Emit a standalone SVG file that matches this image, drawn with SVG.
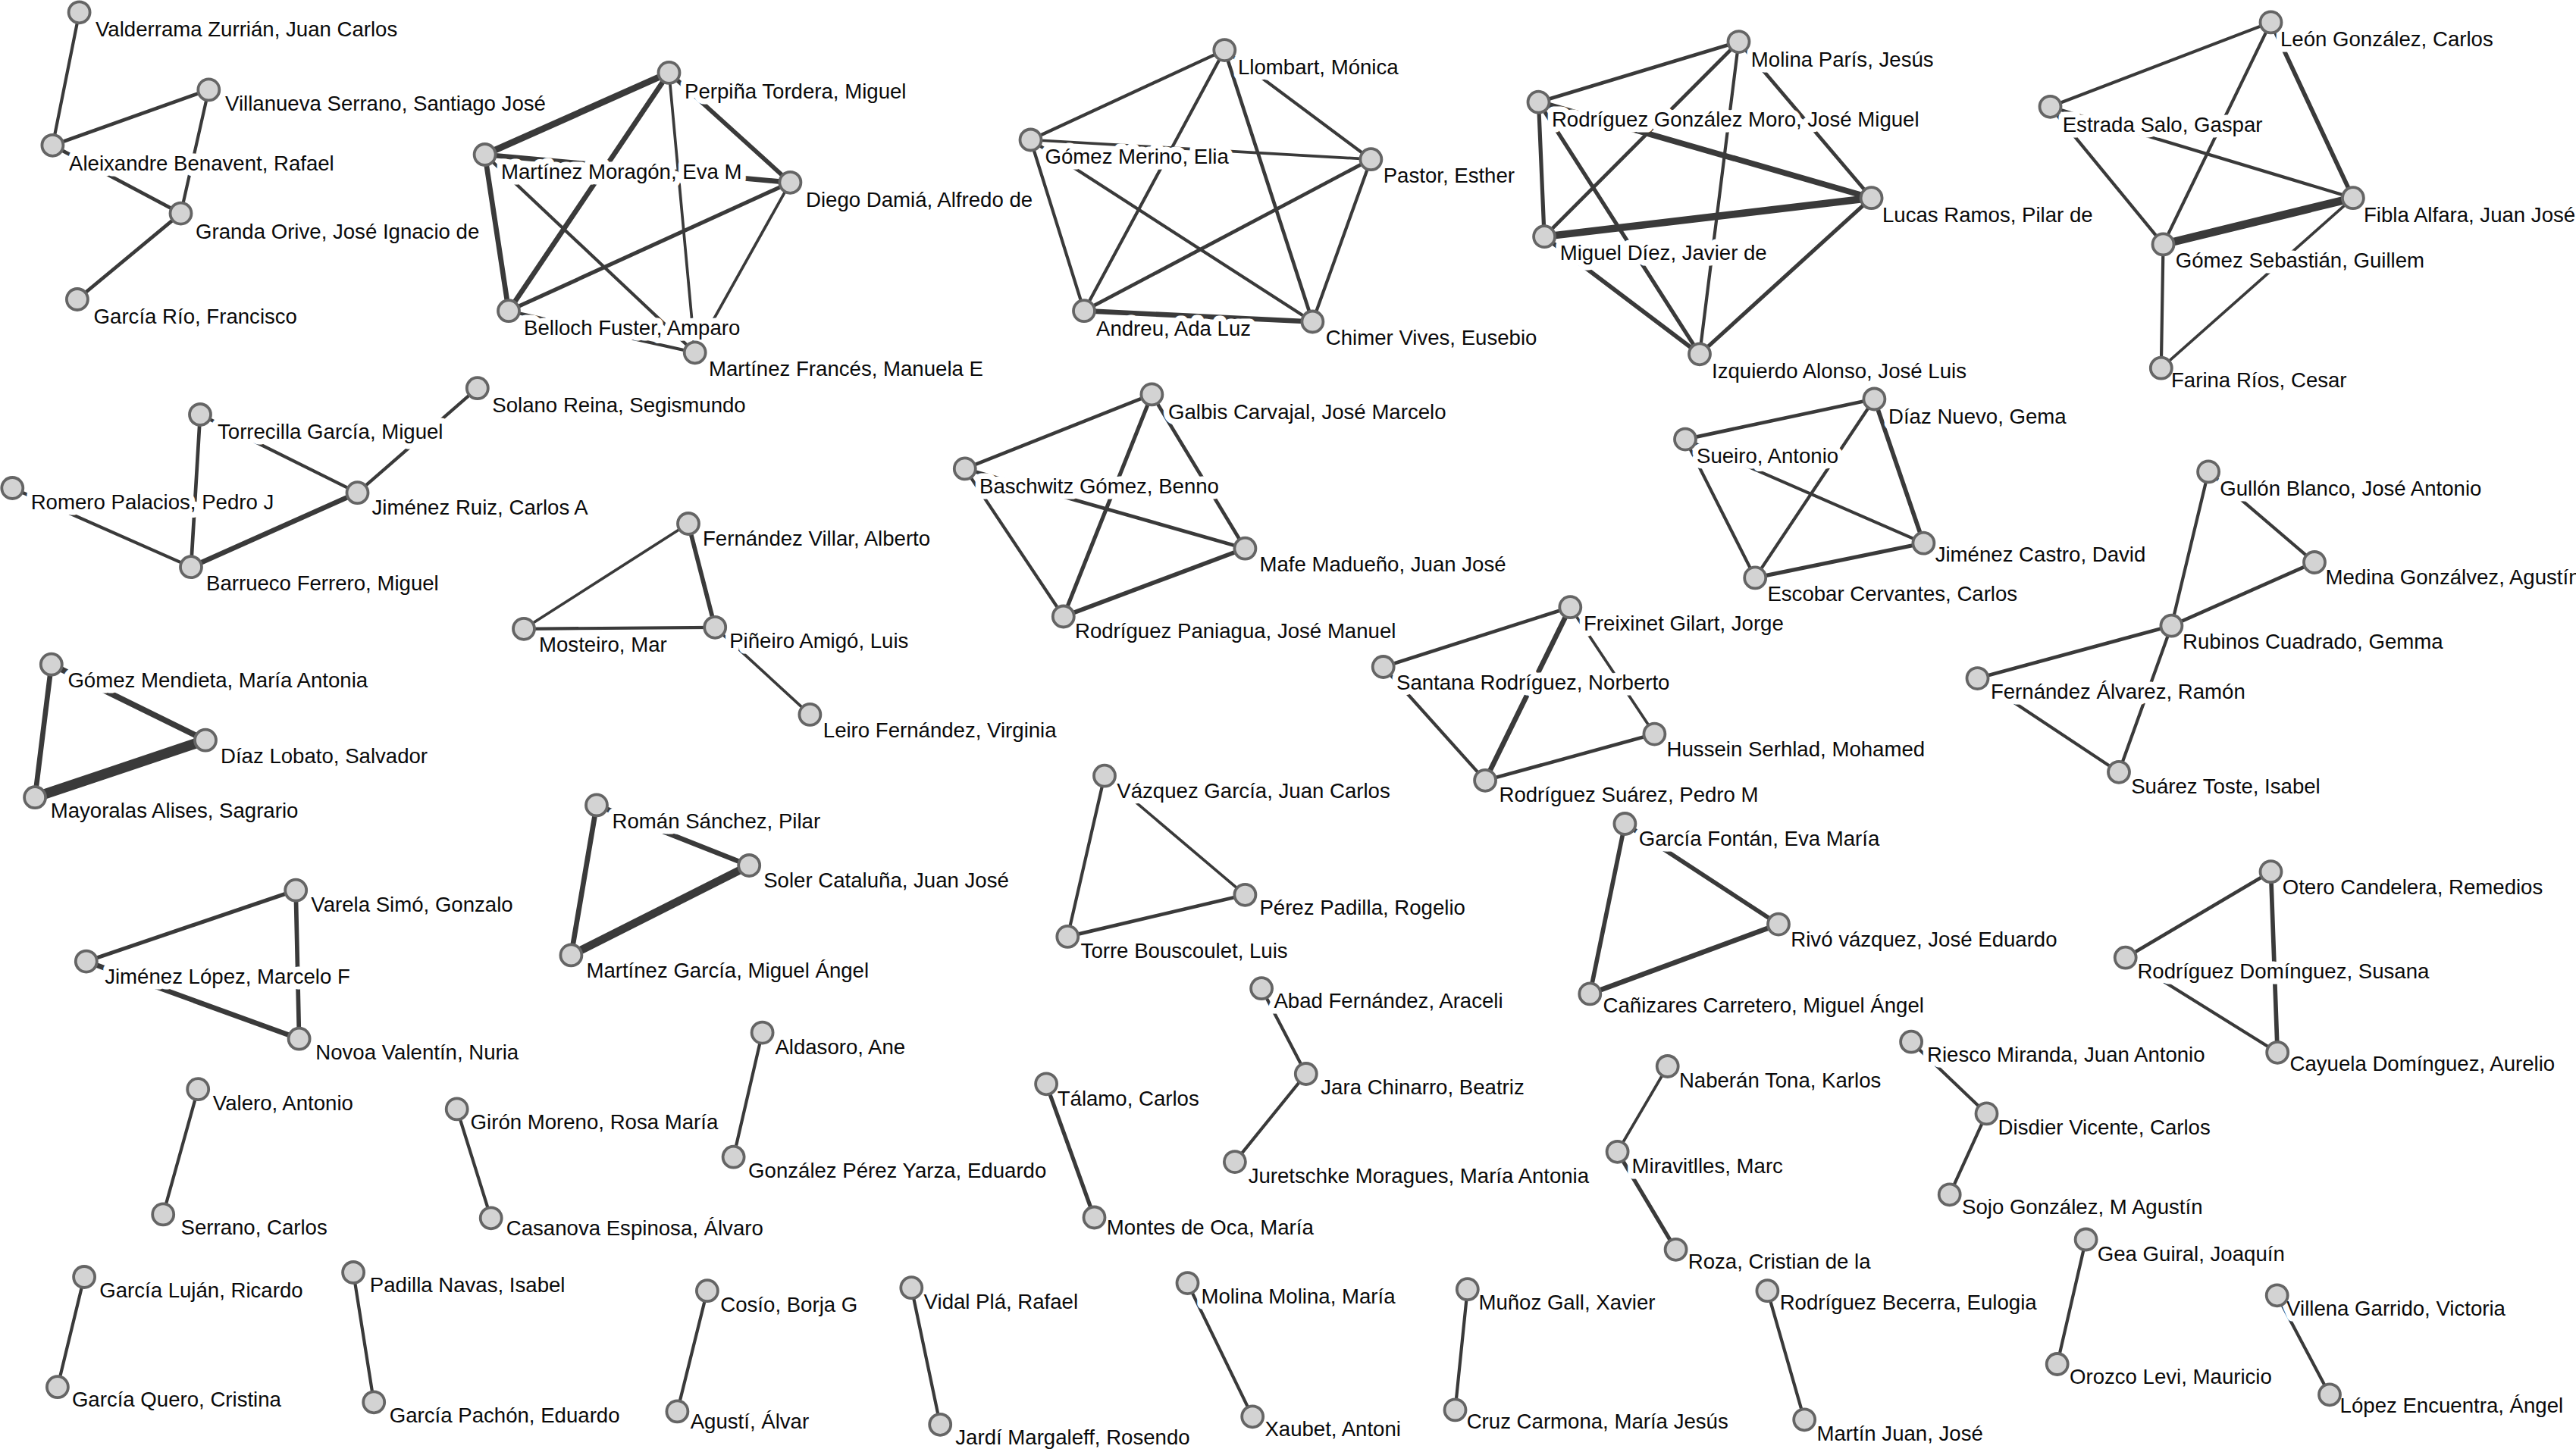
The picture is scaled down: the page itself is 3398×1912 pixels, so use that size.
<svg xmlns="http://www.w3.org/2000/svg" width="3398" height="1912" viewBox="0 0 3398 1912">
<style>
.e{stroke:#3a3a3a;stroke-linecap:round;fill:none}
.node circle{fill:#d3d3d3;stroke:#656565;stroke-width:3.8}
.node text{font-family:"Liberation Sans",Arial,sans-serif;font-size:27.6px;fill:#0a0a0a;stroke:#fff;stroke-width:15;stroke-linejoin:round;paint-order:stroke}
</style>
<rect width="3398" height="1912" fill="#fff"/>
<g id="connectors">
<!-- A -->
<line class="e" x1="104.6" y1="16.3" x2="69.4" y2="191.8" stroke-width="4.2"/>
<line class="e" x1="69.4" y1="191.8" x2="275.3" y2="118.4" stroke-width="4.7"/>
<line class="e" x1="275.3" y1="118.4" x2="238.5" y2="281.6" stroke-width="4.2"/>
<line class="e" x1="69.4" y1="191.8" x2="238.5" y2="281.6" stroke-width="4.7"/>
<line class="e" x1="238.5" y1="281.6" x2="101.9" y2="395" stroke-width="4.7"/>
<!-- B -->
<line class="e" x1="639.6" y1="204" x2="882.5" y2="95.9" stroke-width="8.7"/>
<line class="e" x1="639.6" y1="204" x2="671" y2="410.2" stroke-width="6.7"/>
<line class="e" x1="639.6" y1="204" x2="1042.4" y2="240.8" stroke-width="6.7"/>
<line class="e" x1="639.6" y1="204" x2="916.7" y2="465.3" stroke-width="4.2"/>
<line class="e" x1="882.5" y1="95.9" x2="671" y2="410.2" stroke-width="6.7"/>
<line class="e" x1="882.5" y1="95.9" x2="1042.4" y2="240.8" stroke-width="5.7"/>
<line class="e" x1="882.5" y1="95.9" x2="916.7" y2="465.3" stroke-width="3.7"/>
<line class="e" x1="671" y1="410.2" x2="1042.4" y2="240.8" stroke-width="5.2"/>
<line class="e" x1="1042.4" y1="240.8" x2="916.7" y2="465.3" stroke-width="3.7"/>
<line class="e" x1="671" y1="410.2" x2="916.7" y2="465.3" stroke-width="4.2"/>
<!-- C -->
<line class="e" x1="1359.5" y1="184.5" x2="1615.3" y2="66.1" stroke-width="4.2"/>
<line class="e" x1="1359.5" y1="184.5" x2="1808.4" y2="210.2" stroke-width="3.7"/>
<line class="e" x1="1359.5" y1="184.5" x2="1430" y2="410.2" stroke-width="4.2"/>
<line class="e" x1="1359.5" y1="184.5" x2="1731.4" y2="424.5" stroke-width="4.2"/>
<line class="e" x1="1615.3" y1="66.1" x2="1430" y2="410.2" stroke-width="4.2"/>
<line class="e" x1="1615.3" y1="66.1" x2="1731.4" y2="424.5" stroke-width="4.7"/>
<line class="e" x1="1615.3" y1="66.1" x2="1808.4" y2="210.2" stroke-width="4.2"/>
<line class="e" x1="1808.4" y1="210.2" x2="1430" y2="410.2" stroke-width="4.7"/>
<line class="e" x1="1808.4" y1="210.2" x2="1731.4" y2="424.5" stroke-width="4.2"/>
<line class="e" x1="1430" y1="410.2" x2="1731.4" y2="424.5" stroke-width="6.7"/>
<!-- D -->
<line class="e" x1="2293.5" y1="55.1" x2="2029.5" y2="134.7" stroke-width="4.7"/>
<line class="e" x1="2293.5" y1="55.1" x2="2037.1" y2="312.2" stroke-width="4.7"/>
<line class="e" x1="2293.5" y1="55.1" x2="2242" y2="467.3" stroke-width="4.2"/>
<line class="e" x1="2293.5" y1="55.1" x2="2468.6" y2="261.2" stroke-width="4.7"/>
<line class="e" x1="2029.5" y1="134.7" x2="2037.1" y2="312.2" stroke-width="5.2"/>
<line class="e" x1="2029.5" y1="134.7" x2="2468.6" y2="261.2" stroke-width="7.7"/>
<line class="e" x1="2029.5" y1="134.7" x2="2242" y2="467.3" stroke-width="5.2"/>
<line class="e" x1="2037.1" y1="312.2" x2="2468.6" y2="261.2" stroke-width="9.7"/>
<line class="e" x1="2037.1" y1="312.2" x2="2242" y2="467.3" stroke-width="5.7"/>
<line class="e" x1="2468.6" y1="261.2" x2="2242" y2="467.3" stroke-width="5.2"/>
<!-- E -->
<line class="e" x1="2995.5" y1="29.4" x2="2704.5" y2="140.8" stroke-width="4.2"/>
<line class="e" x1="2995.5" y1="29.4" x2="2853.5" y2="322.4" stroke-width="4.2"/>
<line class="e" x1="2995.5" y1="29.4" x2="3103.9" y2="261.2" stroke-width="5.7"/>
<line class="e" x1="2704.5" y1="140.8" x2="2853.5" y2="322.4" stroke-width="4.2"/>
<line class="e" x1="2704.5" y1="140.8" x2="3103.9" y2="261.2" stroke-width="4.2"/>
<line class="e" x1="2853.5" y1="322.4" x2="3103.9" y2="261.2" stroke-width="10.7"/>
<line class="e" x1="2853.5" y1="322.4" x2="2850.8" y2="485.7" stroke-width="4.2"/>
<line class="e" x1="3103.9" y1="261.2" x2="2850.8" y2="485.7" stroke-width="3.7"/>
<!-- F -->
<line class="e" x1="264" y1="547" x2="252" y2="748.2" stroke-width="4.7"/>
<line class="e" x1="264" y1="547" x2="471.5" y2="650.2" stroke-width="4.2"/>
<line class="e" x1="629.8" y1="512.2" x2="471.5" y2="650.2" stroke-width="4.2"/>
<line class="e" x1="16.3" y1="644" x2="252" y2="748.2" stroke-width="4.2"/>
<line class="e" x1="471.5" y1="650.2" x2="252" y2="748.2" stroke-width="6.7"/>
<!-- G -->
<line class="e" x1="908" y1="691" x2="691" y2="829.8" stroke-width="3.7"/>
<line class="e" x1="908" y1="691" x2="943.2" y2="827.8" stroke-width="5.7"/>
<line class="e" x1="691" y1="829.8" x2="943.2" y2="827.8" stroke-width="4.2"/>
<line class="e" x1="943.2" y1="827.8" x2="1068.4" y2="942.9" stroke-width="3.7"/>
<!-- H -->
<line class="e" x1="1519.4" y1="520.4" x2="1272.8" y2="618.4" stroke-width="4.7"/>
<line class="e" x1="1519.4" y1="520.4" x2="1402.8" y2="813.5" stroke-width="5.2"/>
<line class="e" x1="1519.4" y1="520.4" x2="1642.4" y2="723.7" stroke-width="4.7"/>
<line class="e" x1="1272.8" y1="618.4" x2="1642.4" y2="723.7" stroke-width="4.7"/>
<line class="e" x1="1272.8" y1="618.4" x2="1402.8" y2="813.5" stroke-width="4.2"/>
<line class="e" x1="1402.8" y1="813.5" x2="1642.4" y2="723.7" stroke-width="5.7"/>
<!-- I -->
<line class="e" x1="2223" y1="579.6" x2="2472.4" y2="526.5" stroke-width="4.7"/>
<line class="e" x1="2223" y1="579.6" x2="2537.4" y2="716.7" stroke-width="4.2"/>
<line class="e" x1="2223" y1="579.6" x2="2315.2" y2="762.4" stroke-width="4.2"/>
<line class="e" x1="2472.4" y1="526.5" x2="2315.2" y2="762.4" stroke-width="4.2"/>
<line class="e" x1="2472.4" y1="526.5" x2="2537.4" y2="716.7" stroke-width="5.7"/>
<line class="e" x1="2315.2" y1="762.4" x2="2537.4" y2="716.7" stroke-width="5.2"/>
<!-- J -->
<line class="e" x1="2071.3" y1="801.2" x2="1824.7" y2="880" stroke-width="4.7"/>
<line class="e" x1="2071.3" y1="801.2" x2="1959.1" y2="1029.8" stroke-width="6.7"/>
<line class="e" x1="2071.3" y1="801.2" x2="2182.4" y2="968.6" stroke-width="3.7"/>
<line class="e" x1="1824.7" y1="880" x2="1959.1" y2="1029.8" stroke-width="4.2"/>
<line class="e" x1="2182.4" y1="968.6" x2="1959.1" y2="1029.8" stroke-width="4.7"/>
<!-- K -->
<line class="e" x1="2913.1" y1="622.4" x2="2864.4" y2="825.7" stroke-width="4.2"/>
<line class="e" x1="2913.1" y1="622.4" x2="3053" y2="742" stroke-width="4.2"/>
<line class="e" x1="2864.4" y1="825.7" x2="3053" y2="742" stroke-width="4.7"/>
<line class="e" x1="2864.4" y1="825.7" x2="2608.5" y2="895.1" stroke-width="4.7"/>
<line class="e" x1="2608.5" y1="895.1" x2="2795" y2="1018.8" stroke-width="4.2"/>
<line class="e" x1="2864.4" y1="825.7" x2="2795" y2="1018.8" stroke-width="4.2"/>
<!-- L -->
<line class="e" x1="67.8" y1="876.7" x2="46.1" y2="1052.2" stroke-width="6.7"/>
<line class="e" x1="67.8" y1="876.7" x2="271" y2="976.7" stroke-width="7.7"/>
<line class="e" x1="271" y1="976.7" x2="46.1" y2="1052.2" stroke-width="13.5"/>
<!-- M -->
<line class="e" x1="787" y1="1062.4" x2="753.4" y2="1260.4" stroke-width="6.7"/>
<line class="e" x1="787" y1="1062.4" x2="988.2" y2="1142" stroke-width="6.7"/>
<line class="e" x1="988.2" y1="1142" x2="753.4" y2="1260.4" stroke-width="10.7"/>
<!-- N -->
<line class="e" x1="1457" y1="1023.7" x2="1408.3" y2="1235.9" stroke-width="4.2"/>
<line class="e" x1="1457" y1="1023.7" x2="1642.4" y2="1180.8" stroke-width="3.7"/>
<line class="e" x1="1642.4" y1="1180.8" x2="1408.3" y2="1235.9" stroke-width="4.7"/>
<!-- O -->
<line class="e" x1="390.2" y1="1174.7" x2="113.8" y2="1268.6" stroke-width="5.2"/>
<line class="e" x1="390.2" y1="1174.7" x2="394.6" y2="1370.7" stroke-width="5.7"/>
<line class="e" x1="113.8" y1="1268.6" x2="394.6" y2="1370.7" stroke-width="6.7"/>
<!-- P -->
<line class="e" x1="2143.4" y1="1087" x2="2097.3" y2="1311.4" stroke-width="5.7"/>
<line class="e" x1="2143.4" y1="1087" x2="2346" y2="1219.6" stroke-width="5.7"/>
<line class="e" x1="2346" y1="1219.6" x2="2097.3" y2="1311.4" stroke-width="6.7"/>
<!-- Q -->
<line class="e" x1="2995.5" y1="1150.2" x2="2803.7" y2="1263.7" stroke-width="4.7"/>
<line class="e" x1="2995.5" y1="1150.2" x2="3004.2" y2="1388.8" stroke-width="5.7"/>
<line class="e" x1="2803.7" y1="1263.7" x2="3004.2" y2="1388.8" stroke-width="4.2"/>
<!-- R S T -->
<line class="e" x1="1664.1" y1="1304.2" x2="1722.8" y2="1417" stroke-width="4.2"/>
<line class="e" x1="1722.8" y1="1417" x2="1628.9" y2="1533.1" stroke-width="4.2"/>
<line class="e" x1="2199.7" y1="1407" x2="2133.6" y2="1519.8" stroke-width="3.7"/>
<line class="e" x1="2133.6" y1="1519.8" x2="2210.6" y2="1648.8" stroke-width="5.2"/>
<line class="e" x1="2521.1" y1="1374.7" x2="2620.5" y2="1469.4" stroke-width="4.2"/>
<line class="e" x1="2620.5" y1="1469.4" x2="2571.7" y2="1576.3" stroke-width="4.2"/>
<!-- pairs -->
<line class="e" x1="261.2" y1="1437.2" x2="215.2" y2="1602.4" stroke-width="4.2"/>
<line class="e" x1="602.7" y1="1463.4" x2="647.7" y2="1607.3" stroke-width="4.2"/>
<line class="e" x1="1005.6" y1="1362.6" x2="967.6" y2="1526.7" stroke-width="4.2"/>
<line class="e" x1="1380.1" y1="1430.3" x2="1443.5" y2="1606.5" stroke-width="5.2"/>
<line class="e" x1="111.1" y1="1685" x2="75.9" y2="1830.2" stroke-width="4.2"/>
<line class="e" x1="466.1" y1="1679" x2="493.2" y2="1850.3" stroke-width="4.2"/>
<line class="e" x1="932.9" y1="1703.2" x2="893.4" y2="1862.4" stroke-width="4.2"/>
<line class="e" x1="1202.3" y1="1699.2" x2="1240.2" y2="1879.8" stroke-width="4.2"/>
<line class="e" x1="1566.5" y1="1693.1" x2="1652.2" y2="1869.3" stroke-width="4.2"/>
<line class="e" x1="1935.8" y1="1701.2" x2="1919.5" y2="1860.4" stroke-width="4.2"/>
<line class="e" x1="2331.4" y1="1703.2" x2="2380.2" y2="1873.3" stroke-width="4.2"/>
<line class="e" x1="2751.6" y1="1635.5" x2="2713.7" y2="1800" stroke-width="4.2"/>
<line class="e" x1="3003.7" y1="1709.3" x2="3073" y2="1840.3" stroke-width="4.2"/>
</g>
<g id="nodes">
<g class="node" id="n1"><text x="126" y="48">Valderrama Zurrián, Juan Carlos</text><circle cx="104.6" cy="16.3" r="14"/></g>
<g class="node" id="n2"><text x="297" y="146">Villanueva Serrano, Santiago José</text><circle cx="275.3" cy="118.4" r="14"/></g>
<g class="node" id="n3"><text x="91" y="224.5">Aleixandre Benavent, Rafael</text><circle cx="69.4" cy="191.8" r="14"/></g>
<g class="node" id="n4"><text x="258" y="315">Granda Orive, José Ignacio de</text><circle cx="238.5" cy="281.6" r="14"/></g>
<g class="node" id="n5"><text x="123.6" y="426.5">García Río, Francisco</text><circle cx="101.9" cy="395" r="14"/></g>
<g class="node" id="n6"><text x="661" y="236">Martínez Moragón, Eva M</text><circle cx="639.6" cy="204" r="14"/></g>
<g class="node" id="n7"><text x="903" y="129.8">Perpiña Tordera, Miguel</text><circle cx="882.5" cy="95.9" r="14"/></g>
<g class="node" id="n8"><text x="1063" y="272.6">Diego Damiá, Alfredo de</text><circle cx="1042.4" cy="240.8" r="14"/></g>
<g class="node" id="n9"><text x="691" y="441.6">Belloch Fuster, Amparo</text><circle cx="671" cy="410.2" r="14"/></g>
<g class="node" id="n10"><text x="935" y="496">Martínez Francés, Manuela E</text><circle cx="916.7" cy="465.3" r="14"/></g>
<g class="node" id="n11"><text x="1378.5" y="216">Gómez Merino, Elia</text><circle cx="1359.5" cy="184.5" r="14"/></g>
<g class="node" id="n12"><text x="1633" y="98">Llombart, Mónica</text><circle cx="1615.3" cy="66.1" r="14"/></g>
<g class="node" id="n13"><text x="1824.7" y="240.8">Pastor, Esther</text><circle cx="1808.4" cy="210.2" r="14"/></g>
<g class="node" id="n14"><text x="1446" y="443">Andreu, Ada Luz</text><circle cx="1430" cy="410.2" r="14"/></g>
<g class="node" id="n15"><text x="1748.8" y="455">Chimer Vives, Eusebio</text><circle cx="1731.4" cy="424.5" r="14"/></g>
<g class="node" id="n16"><text x="2309.8" y="87.8">Molina París, Jesús</text><circle cx="2293.5" cy="55.1" r="14"/></g>
<g class="node" id="n17"><text x="2046.9" y="166.5">Rodríguez González Moro, José Miguel</text><circle cx="2029.5" cy="134.7" r="14"/></g>
<g class="node" id="n18"><text x="2483" y="293">Lucas Ramos, Pilar de</text><circle cx="2468.6" cy="261.2" r="14"/></g>
<g class="node" id="n19"><text x="2057.7" y="342.9">Miguel Díez, Javier de</text><circle cx="2037.1" cy="312.2" r="14"/></g>
<g class="node" id="n20"><text x="2258" y="498.8">Izquierdo Alonso, José Luis</text><circle cx="2242" cy="467.3" r="14"/></g>
<g class="node" id="n21"><text x="3008" y="61">León González, Carlos</text><circle cx="2995.5" cy="29.4" r="14"/></g>
<g class="node" id="n22"><text x="2720.7" y="173.5">Estrada Salo, Gaspar</text><circle cx="2704.5" cy="140.8" r="14"/></g>
<g class="node" id="n23"><text x="3118" y="293">Fibla Alfara, Juan José</text><circle cx="3103.9" cy="261.2" r="14"/></g>
<g class="node" id="n24"><text x="2869.8" y="353">Gómez Sebastián, Guillem</text><circle cx="2853.5" cy="322.4" r="14"/></g>
<g class="node" id="n25"><text x="2864" y="511">Farina Ríos, Cesar</text><circle cx="2850.8" cy="485.7" r="14"/></g>
<g class="node" id="n26"><text x="287" y="578.8">Torrecilla García, Miguel</text><circle cx="264" cy="547" r="14"/></g>
<g class="node" id="n27"><text x="649.3" y="544">Solano Reina, Segismundo</text><circle cx="629.8" cy="512.2" r="14"/></g>
<g class="node" id="n28"><text x="490.5" y="678.8">Jiménez Ruiz, Carlos A</text><circle cx="471.5" cy="650.2" r="14"/></g>
<g class="node" id="n29"><text x="40.7" y="671.8">Romero Palacios, Pedro J</text><circle cx="16.3" cy="644" r="14"/></g>
<g class="node" id="n30"><text x="272" y="778.8">Barrueco Ferrero, Miguel</text><circle cx="252" cy="748.2" r="14"/></g>
<g class="node" id="n31"><text x="927" y="719.6">Fernández Villar, Alberto</text><circle cx="908" cy="691" r="14"/></g>
<g class="node" id="n32"><text x="711" y="860.4">Mosteiro, Mar</text><circle cx="691" cy="829.8" r="14"/></g>
<g class="node" id="n33"><text x="962.2" y="855.1">Piñeiro Amigó, Luis</text><circle cx="943.2" cy="827.8" r="14"/></g>
<g class="node" id="n34"><text x="1085.8" y="972.7">Leiro Fernández, Virginia</text><circle cx="1068.4" cy="942.9" r="14"/></g>
<g class="node" id="n35"><text x="1541" y="553">Galbis Carvajal, José Marcelo</text><circle cx="1519.4" cy="520.4" r="14"/></g>
<g class="node" id="n36"><text x="1292" y="651">Baschwitz Gómez, Benno</text><circle cx="1272.8" cy="618.4" r="14"/></g>
<g class="node" id="n37"><text x="1661.4" y="753.5">Mafe Madueño, Juan José</text><circle cx="1642.4" cy="723.7" r="14"/></g>
<g class="node" id="n38"><text x="1418" y="842">Rodríguez Paniagua, José Manuel</text><circle cx="1402.8" cy="813.5" r="14"/></g>
<g class="node" id="n39"><text x="2491" y="559">Díaz Nuevo, Gema</text><circle cx="2472.4" cy="526.5" r="14"/></g>
<g class="node" id="n40"><text x="2238" y="611">Sueiro, Antonio</text><circle cx="2223" cy="579.6" r="14"/></g>
<g class="node" id="n41"><text x="2552.7" y="741.2">Jiménez Castro, David</text><circle cx="2537.4" cy="716.7" r="14"/></g>
<g class="node" id="n42"><text x="2331.4" y="793">Escobar Cervantes, Carlos</text><circle cx="2315.2" cy="762.4" r="14"/></g>
<g class="node" id="n43"><text x="2089" y="831.8">Freixinet Gilart, Jorge</text><circle cx="2071.3" cy="801.2" r="14"/></g>
<g class="node" id="n44"><text x="1842" y="910.2">Santana Rodríguez, Norberto</text><circle cx="1824.7" cy="880" r="14"/></g>
<g class="node" id="n45"><text x="2198.6" y="998.4">Hussein Serhlad, Mohamed</text><circle cx="2182.4" cy="968.6" r="14"/></g>
<g class="node" id="n46"><text x="1977.5" y="1058.4">Rodríguez Suárez, Pedro M</text><circle cx="1959.1" cy="1029.8" r="14"/></g>
<g class="node" id="n47"><text x="2928.3" y="654">Gullón Blanco, José Antonio</text><circle cx="2913.1" cy="622.4" r="14"/></g>
<g class="node" id="n48"><text x="3067.6" y="771.4">Medina Gonzálvez, Agustín</text><circle cx="3053" cy="742" r="14"/></g>
<g class="node" id="n49"><text x="2879" y="855.5">Rubinos Cuadrado, Gemma</text><circle cx="2864.4" cy="825.7" r="14"/></g>
<g class="node" id="n50"><text x="2625.9" y="922.4">Fernández Álvarez, Ramón</text><circle cx="2608.5" cy="895.1" r="14"/></g>
<g class="node" id="n51"><text x="2811.2" y="1047.3">Suárez Toste, Isabel</text><circle cx="2795" cy="1018.8" r="14"/></g>
<g class="node" id="n52"><text x="89.4" y="907.3">Gómez Mendieta, María Antonia</text><circle cx="67.8" cy="876.7" r="14"/></g>
<g class="node" id="n53"><text x="291" y="1007.3">Díaz Lobato, Salvador</text><circle cx="271" cy="976.7" r="14"/></g>
<g class="node" id="n54"><text x="66.7" y="1078.8">Mayoralas Alises, Sagrario</text><circle cx="46.1" cy="1052.2" r="14"/></g>
<g class="node" id="n55"><text x="807.6" y="1093">Román Sánchez, Pilar</text><circle cx="787" cy="1062.4" r="14"/></g>
<g class="node" id="n56"><text x="1007.2" y="1170.6">Soler Cataluña, Juan José</text><circle cx="988.2" cy="1142" r="14"/></g>
<g class="node" id="n57"><text x="773.4" y="1290">Martínez García, Miguel Ángel</text><circle cx="753.4" cy="1260.4" r="14"/></g>
<g class="node" id="n58"><text x="1473.3" y="1053">Vázquez García, Juan Carlos</text><circle cx="1457" cy="1023.7" r="14"/></g>
<g class="node" id="n59"><text x="1661.4" y="1207.3">Pérez Padilla, Rogelio</text><circle cx="1642.4" cy="1180.8" r="14"/></g>
<g class="node" id="n60"><text x="1425.6" y="1263.7">Torre Bouscoulet, Luis</text><circle cx="1408.3" cy="1235.9" r="14"/></g>
<g class="node" id="n61"><text x="410.3" y="1203.3">Varela Simó, Gonzalo</text><circle cx="390.2" cy="1174.7" r="14"/></g>
<g class="node" id="n62"><text x="138.2" y="1298">Jiménez López, Marcelo F</text><circle cx="113.8" cy="1268.6" r="14"/></g>
<g class="node" id="n63"><text x="416.3" y="1397.7">Novoa Valentín, Nuria</text><circle cx="394.6" cy="1370.7" r="14"/></g>
<g class="node" id="n64"><text x="2161.8" y="1115.5">García Fontán, Eva María</text><circle cx="2143.4" cy="1087" r="14"/></g>
<g class="node" id="n65"><text x="2362.3" y="1249">Rivó vázquez, José Eduardo</text><circle cx="2346" cy="1219.6" r="14"/></g>
<g class="node" id="n66"><text x="2114.6" y="1336.4">Cañizares Carretero, Miguel Ángel</text><circle cx="2097.3" cy="1311.4" r="14"/></g>
<g class="node" id="n67"><text x="3010.7" y="1179.6">Otero Candelera, Remedios</text><circle cx="2995.5" cy="1150.2" r="14"/></g>
<g class="node" id="n68"><text x="2819.4" y="1291">Rodríguez Domínguez, Susana</text><circle cx="2803.7" cy="1263.7" r="14"/></g>
<g class="node" id="n69"><text x="3020.5" y="1413">Cayuela Domínguez, Aurelio</text><circle cx="3004.2" cy="1388.8" r="14"/></g>
<g class="node" id="n70"><text x="1680.4" y="1330.4">Abad Fernández, Araceli</text><circle cx="1664.1" cy="1304.2" r="14"/></g>
<g class="node" id="n71"><text x="1742.3" y="1444.4">Jara Chinarro, Beatriz</text><circle cx="1722.8" cy="1417" r="14"/></g>
<g class="node" id="n72"><text x="1646.7" y="1561.3">Juretschke Moragues, María Antonia</text><circle cx="1628.9" cy="1533.1" r="14"/></g>
<g class="node" id="n73"><text x="2214.9" y="1435.2">Naberán Tona, Karlos</text><circle cx="2199.7" cy="1407" r="14"/></g>
<g class="node" id="n74"><text x="2152.6" y="1548">Miravitlles, Marc</text><circle cx="2133.6" cy="1519.8" r="14"/></g>
<g class="node" id="n75"><text x="2226.8" y="1674.2">Roza, Cristian de la</text><circle cx="2210.6" cy="1648.8" r="14"/></g>
<g class="node" id="n76"><text x="2542" y="1400.9">Riesco Miranda, Juan Antonio</text><circle cx="2521.1" cy="1374.7" r="14"/></g>
<g class="node" id="n77"><text x="2635.6" y="1496.8">Disdier Vicente, Carlos</text><circle cx="2620.5" cy="1469.4" r="14"/></g>
<g class="node" id="n78"><text x="2588" y="1602.4">Sojo González, M Agustín</text><circle cx="2571.7" cy="1576.3" r="14"/></g>
<g class="node" id="n79"><text x="280.8" y="1464.6">Valero, Antonio</text><circle cx="261.2" cy="1437.2" r="14"/></g>
<g class="node" id="n80"><text x="238.5" y="1628.6">Serrano, Carlos</text><circle cx="215.2" cy="1602.4" r="14"/></g>
<g class="node" id="n81"><text x="620.6" y="1490.4">Girón Moreno, Rosa María</text><circle cx="602.7" cy="1463.4" r="14"/></g>
<g class="node" id="n82"><text x="667.8" y="1629.9">Casanova Espinosa, Álvaro</text><circle cx="647.7" cy="1607.3" r="14"/></g>
<g class="node" id="n83"><text x="1022.4" y="1390.8">Aldasoro, Ane</text><circle cx="1005.6" cy="1362.6" r="14"/></g>
<g class="node" id="n84"><text x="987.1" y="1554.1">González Pérez Yarza, Eduardo</text><circle cx="967.6" cy="1526.7" r="14"/></g>
<g class="node" id="n85"><text x="1394.7" y="1459.4">Tálamo, Carlos</text><circle cx="1380.1" cy="1430.3" r="14"/></g>
<g class="node" id="n86"><text x="1459.8" y="1628.6">Montes de Oca, María</text><circle cx="1443.5" cy="1606.5" r="14"/></g>
<g class="node" id="n87"><text x="131.2" y="1712.1">García Luján, Ricardo</text><circle cx="111.1" cy="1685" r="14"/></g>
<g class="node" id="n88"><text x="94.9" y="1856.4">García Quero, Cristina</text><circle cx="75.9" cy="1830.2" r="14"/></g>
<g class="node" id="n89"><text x="487.8" y="1705.2">Padilla Navas, Isabel</text><circle cx="466.1" cy="1679" r="14"/></g>
<g class="node" id="n90"><text x="513.8" y="1877.3">García Pachón, Eduardo</text><circle cx="493.2" cy="1850.3" r="14"/></g>
<g class="node" id="n91"><text x="950.3" y="1730.6">Cosío, Borja G</text><circle cx="932.9" cy="1703.2" r="14"/></g>
<g class="node" id="n92"><text x="910.7" y="1884.6">Agustí, Álvar</text><circle cx="893.4" cy="1862.4" r="14"/></g>
<g class="node" id="n93"><text x="1218.6" y="1726.6">Vidal Plá, Rafael</text><circle cx="1202.3" cy="1699.2" r="14"/></g>
<g class="node" id="n94"><text x="1260.3" y="1905.5">Jardí Margaleff, Rosendo</text><circle cx="1240.2" cy="1879.8" r="14"/></g>
<g class="node" id="n95"><text x="1584.4" y="1720.2">Molina Molina, María</text><circle cx="1566.5" cy="1693.1" r="14"/></g>
<g class="node" id="n96"><text x="1668.4" y="1895">Xaubet, Antoni</text><circle cx="1652.2" cy="1869.3" r="14"/></g>
<g class="node" id="n97"><text x="1950.4" y="1728.2">Muñoz Gall, Xavier</text><circle cx="1935.8" cy="1701.2" r="14"/></g>
<g class="node" id="n98"><text x="1934.7" y="1885.4">Cruz Carmona, María Jesús</text><circle cx="1919.5" cy="1860.4" r="14"/></g>
<g class="node" id="n99"><text x="2347.7" y="1728.2">Rodríguez Becerra, Eulogia</text><circle cx="2331.4" cy="1703.2" r="14"/></g>
<g class="node" id="n100"><text x="2396.5" y="1900.7">Martín Juan, José</text><circle cx="2380.2" cy="1873.3" r="14"/></g>
<g class="node" id="n101"><text x="2766.8" y="1663.7">Gea Guiral, Joaquín</text><circle cx="2751.6" cy="1635.5" r="14"/></g>
<g class="node" id="n102"><text x="2730" y="1826.2">Orozco Levi, Mauricio</text><circle cx="2713.7" cy="1800" r="14"/></g>
<g class="node" id="n103"><text x="3016.1" y="1736.3">Villena Garrido, Victoria</text><circle cx="3003.7" cy="1709.3" r="14"/></g>
<g class="node" id="n104"><text x="3086.6" y="1864.4">López Encuentra, Ángel</text><circle cx="3073" cy="1840.3" r="14"/></g>
</g>
</svg>
